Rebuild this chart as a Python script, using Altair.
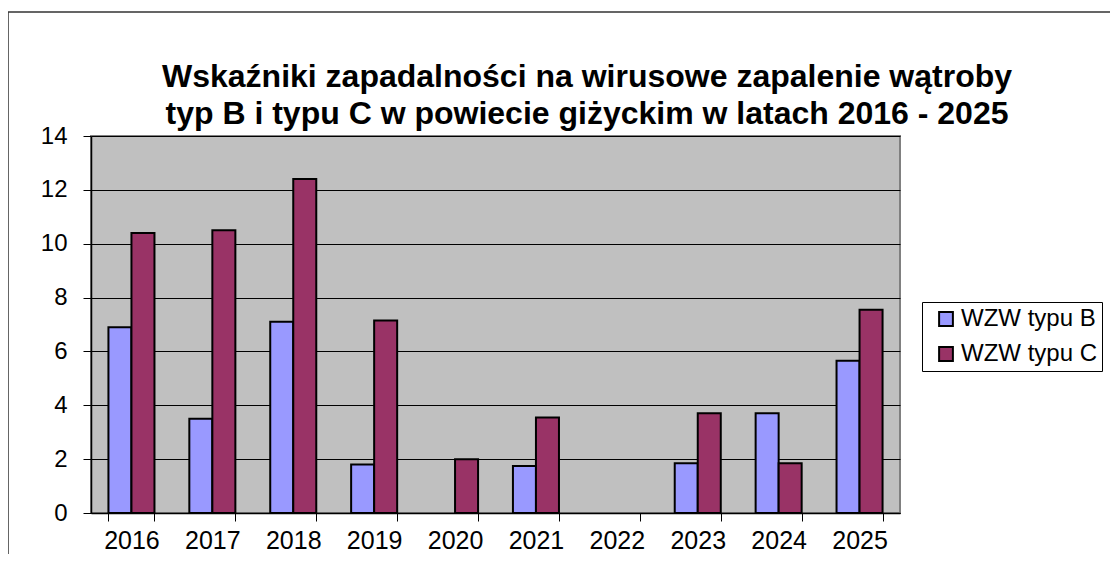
import altair as alt
import pandas as pd

years = ["2016", "2017", "2018", "2019", "2020", "2021", "2022", "2023", "2024", "2025"]
wzw_b = [6.9, 3.5, 7.1, 1.8, 0, 1.75, 0, 1.85, 3.7, 5.65]
wzw_c = [10.4, 10.5, 12.4, 7.15, 2.0, 3.55, 0, 3.7, 1.85, 7.55]
series = ["WZW typu B", "WZW typu C"]
colors = ["#9999FF", "#993366"]
title_lines = [
    "Wskaźniki zapadalności na wirusowe zapalenie wątroby",
    "typ B i typu C w powiecie giżyckim w latach 2016 - 2025",
]

rows = []
for i, y in enumerate(years):
    rows.append({"rok": y, "seria": series[0], "wartosc": wzw_b[i]})
    rows.append({"rok": y, "seria": series[1], "wartosc": wzw_c[i]})
df = pd.DataFrame(rows)

FONT = "Liberation Sans"
W, H = 809, 377

bars = alt.Chart(df).transform_filter("datum.wartosc > 0").mark_bar(
    stroke="black", strokeWidth=2, opacity=1
).encode(
    x=alt.X(
        "rok:N",
        sort=years,
        title=None,
        scale=alt.Scale(domain=years, paddingInner=0.431, paddingOuter=0.2155),
        axis=alt.Axis(
            labelAngle=0,
            labelFontSize=25,
            labelFont=FONT,
            labelColor="black",
            tickBand="extent",
            tickSize=8,
            tickColor="black",
            domainColor="black",
            domainWidth=1.5,
            labelPadding=7,
            grid=False,
        ),
    ),
    xOffset=alt.XOffset("seria:N", sort=series, scale=alt.Scale(domain=series, paddingInner=0, paddingOuter=0)),
    y=alt.Y(
        "wartosc:Q",
        title=None,
        scale=alt.Scale(domain=[0, 14], nice=False),
        axis=alt.Axis(
            values=[0, 2, 4, 6, 8, 10, 12, 14],
            labelFontSize=24,
            labelFont=FONT,
            labelColor="black",
            tickSize=8,
            tickColor="black",
            domainColor="black",
            domainWidth=1.5,
            labelPadding=16,
            grid=True,
            gridColor="black",
            gridWidth=1,
        ),
    ),
    color=alt.Color(
        "seria:N",
        sort=series,
        scale=alt.Scale(domain=series, range=colors),
        legend=alt.Legend(
            title=None,
            orient="none",
            legendX=831,
            legendY=166,
            symbolType="square",
            symbolSize=190,
            symbolStrokeColor="black",
            symbolStrokeWidth=2,
            symbolOpacity=1,
            symbolOffset=7,
            labelFontSize=24,
            labelFont=FONT,
            labelColor="black",
            labelOffset=3,
            rowPadding=11,
            padding=5,
            strokeColor="black",
            fillColor="white",
        ),
    ),
)

frame = alt.Chart(pd.DataFrame({"f": [0]})).mark_rect(
    filled=False, stroke="#333333", strokeWidth=1.5
).encode(
    x=alt.value(-83),
    x2=alt.value(1040),
    y=alt.value(-124),
    y2=alt.value(H + 80),
)

title = alt.Chart(pd.DataFrame({"f": [0]})).mark_text(
    font=FONT,
    fontSize=32,
    fontWeight="bold",
    color="black",
    align="center",
    baseline="alphabetic",
    lineHeight=37,
).encode(
    text=alt.value(title_lines),
    x=alt.value(496),
    y=alt.value(-49),
)

chart = (
    alt.layer(frame, bars, title)
    .properties(
        width=W,
        height=H,
        background="white",
        padding={"left": 83, "top": 128, "right": 210, "bottom": 41},
        autosize=alt.AutoSizeParams(type="none"),
    )
    .configure_view(fill="#C0C0C0", stroke="#808080", strokeWidth=2)
)

chart.save("out.html", embed_options={"renderer": "svg", "actions": False})
